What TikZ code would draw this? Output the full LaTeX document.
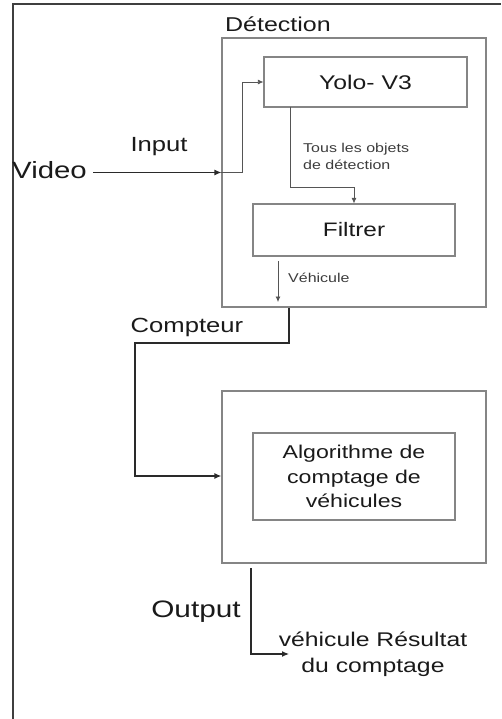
\documentclass[tikz,border=0pt]{standalone}
\usepackage{fontspec}
\setmainfont[FakeStretch=1.25]{Liberation Sans}
\usetikzlibrary{arrows.meta}
\definecolor{boxgray}{HTML}{858585}
\definecolor{txt}{HTML}{1a1a1a}
\definecolor{ln}{HTML}{2a2a2a}
\tikzset{
  blk/.style={draw=boxgray, line width=1.2pt, rectangle, inner sep=0pt, text=txt, align=center},
  lbl/.style={inner sep=0pt, text=txt, align=center},
  conn/.style={draw=ln, line width=1.2pt, -{Latex[length=7pt,width=6pt]}},
  thinconn/.style={draw=ln!80, line width=0.7pt, -{Latex[length=5.5pt,width=5pt]}},
  fsz/.style={font=\fontsize{#1}{#1}\selectfont}
}
\begin{document}
\begin{tikzpicture}[x=1pt,y=-1pt]
\useasboundingbox (0,0) rectangle (501,719);
% outer frame (partial)
\draw[draw=ln!90, line width=1.5pt] (13,719) -- (13,4) -- (501,4);

% boxes
\node[blk, minimum width=264pt, minimum height=269pt] (det) at (354,172.5) {};
\node[blk, minimum width=203pt, minimum height=50pt, fsz=19.8] (yolo) at (365.5,82) {Yolo- V3};
\node[blk, minimum width=202pt, minimum height=52pt, fsz=19.5] (filt) at (354,230) {Filtrer};
\node[blk, minimum width=264pt, minimum height=172pt] (cnt) at (354,477) {};
\node[blk, minimum width=202pt, minimum height=87pt, fsz=18.5] (alg) at (354,476.5) {Algorithme de\\[6pt]comptage de\\[6pt]véhicules};

% labels
\node[lbl, fsz=20] (detl) at (278,24) {Détection};
\node[lbl, fsz=23.5, anchor=west] (video) at (12,170) {Video};
\node[lbl, fsz=20.5] (input) at (159,147) {Input};
\node[lbl, fsz=12.8, align=left, anchor=north west, text=txt!85] (tous) at (303,143) {Tous les objets\\[4pt]de détection};
\node[lbl, fsz=12.8, anchor=west, text=txt!85] (vehl) at (288,278) {Véhicule};
\node[lbl, fsz=20.5] (cmpt) at (187,327) {Compteur};
\node[lbl, fsz=23.8] (outl) at (196,612) {Output};
\node[lbl, fsz=19.8] (res) at (373,654) {véhicule Résultat\\[6pt]du comptage};

% coordinates
\coordinate (vin) at (93,172.5);
\coordinate (dwest) at (det.west |- vin);
\coordinate (fa) at (278,261);
\coordinate (fb) at (278,302);
\coordinate (cs) at (289,307.5);
\coordinate (os) at (251,568);
\coordinate (oe) at (289,654);

% connectors
\draw[conn] (vin) -- (dwest);
\draw[thinconn] (dwest) -- (242,172.5) -- (242,82) -- (yolo.west);
\draw[thinconn] (290,107) -- (290,187) -- (354,187) -- (filt.north);
\draw[thinconn] (fa) -- (fb);
\draw[conn, line width=1.5pt] (cs) -- (289,343) -- (135,343) -- (135,476) -- (cnt.west |- 0,476);
\draw[conn] (os) -- (251,654) -- (oe);
\end{tikzpicture}
\end{document}
